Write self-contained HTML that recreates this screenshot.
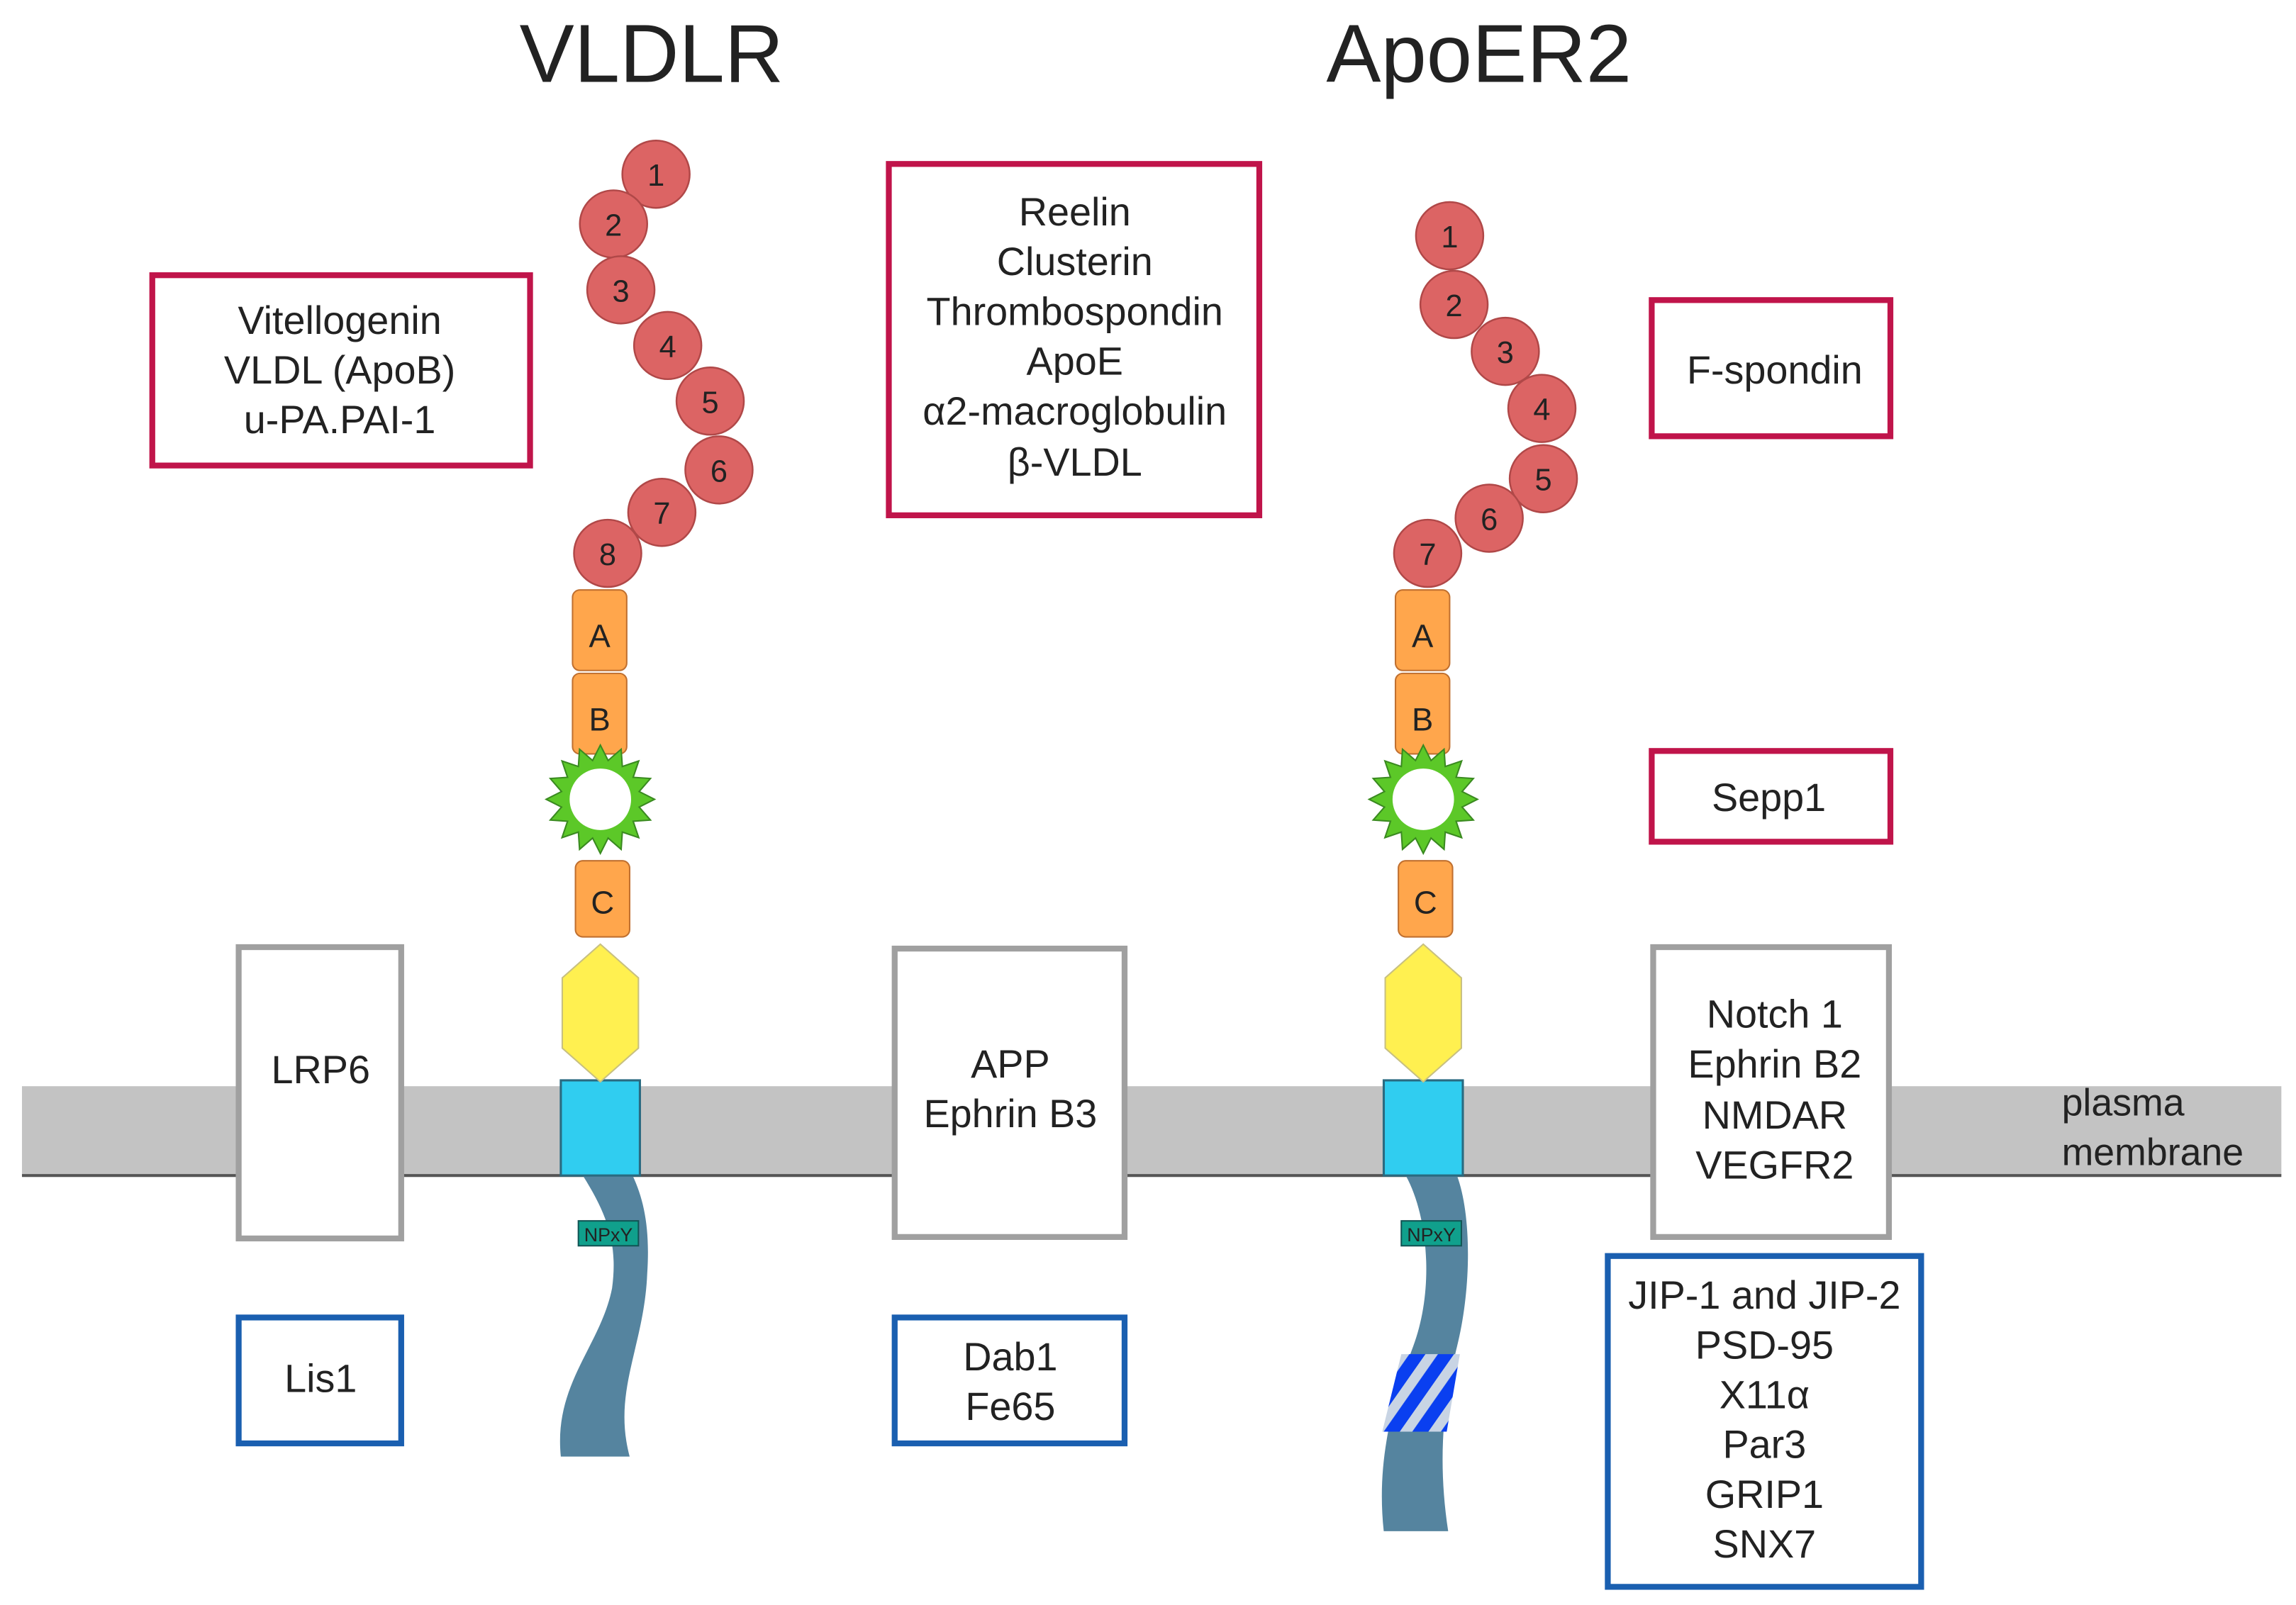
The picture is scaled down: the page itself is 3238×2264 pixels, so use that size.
<!DOCTYPE html>
<html><head><meta charset="utf-8"><style>html,body{margin:0;padding:0;background:#fff}svg{display:block}text{font-family:"Liberation Sans",sans-serif;fill:#222}</style></head><body>
<svg width="3238" height="2264" viewBox="0 0 1568 1096.4" preserveAspectRatio="none" xmlns="http://www.w3.org/2000/svg">
<defs>
<pattern id="st" patternUnits="userSpaceOnUse" width="16" height="16" patternTransform="rotate(35)"><rect width="16" height="16" fill="#0a3ff0"/><rect width="7" height="16" fill="#c8d4e4"/></pattern>
</defs>
<text x="445" y="56" font-size="56" text-anchor="middle">VLDLR</text>
<text x="1010" y="56" font-size="56" text-anchor="middle">ApoER2</text>
<!-- membrane -->
<rect x="15" y="742" width="1543" height="61" fill="#c3c3c3"/>
<line x1="15" y1="803" x2="1558" y2="803" stroke="#555" stroke-width="2"/>
<text x="1408" y="762" font-size="26">plasma</text>
<text x="1408" y="796" font-size="26">membrane</text>
<!-- boxes -->
<g fill="#fff" stroke-width="4">
<rect x="104" y="188" width="258" height="130" stroke="#c0144a"/>
<rect x="607" y="112" width="253" height="240" stroke="#c0144a"/>
<rect x="1128" y="205" width="163" height="93" stroke="#c0144a"/>
<rect x="1128" y="513" width="163" height="62" stroke="#c0144a"/>
<rect x="163" y="647" width="111" height="199" stroke="#a0a0a0"/>
<rect x="611" y="648" width="157" height="197" stroke="#a0a0a0"/>
<rect x="1129" y="647" width="161" height="198" stroke="#a0a0a0"/>
<rect x="163" y="900" width="111" height="86" stroke="#1a5fb0"/>
<rect x="611" y="900" width="157" height="86" stroke="#1a5fb0"/>
<rect x="1098" y="858" width="214" height="226" stroke="#1a5fb0"/>
</g>
<g font-size="27" text-anchor="middle">
<text x="232" y="228">Vitellogenin</text><text x="232" y="262">VLDL (ApoB)</text><text x="232" y="296">u-PA.PAI-1</text>
<text x="734" y="154">Reelin</text><text x="734" y="188">Clusterin</text><text x="734" y="222">Thrombospondin</text><text x="734" y="256">ApoE</text><text x="734" y="290">α2-macroglobulin</text><text x="734" y="325">β-VLDL</text>
<text x="1212" y="262">F-spondin</text>
<text x="1208" y="554">Sepp1</text>
<text x="219" y="740">LRP6</text>
<text x="690" y="736">APP</text><text x="690" y="770">Ephrin B3</text>
<text x="1212" y="702">Notch 1</text><text x="1212" y="736">Ephrin B2</text><text x="1212" y="771">NMDAR</text><text x="1212" y="805">VEGFR2</text>
<text x="219" y="951">Lis1</text>
<text x="690" y="936">Dab1</text><text x="690" y="970">Fe65</text>
<text x="1205" y="894">JIP-1 and JIP-2</text><text x="1205" y="928">PSD-95</text><text x="1205" y="962">X11α</text><text x="1205" y="996">Par3</text><text x="1205" y="1030">GRIP1</text><text x="1205" y="1064">SNX7</text>
</g>
<!-- tails -->
<path d="M398 803 C 415 830, 422 850, 418 880 C 410 920, 378 945, 383 995 L 430 995 C 418 950, 440 920, 442 870 C 444 840, 440 820, 432 803 Z" fill="#55849f"/>
<path d="M960 803 C 975 830, 980 880, 965 920 C 950 960, 940 1000, 945 1046 L 989 1046 C 982 1000, 985 960, 995 920 C 1005 880, 1005 830, 995 803 Z" fill="#55849f"/>
<polygon points="957,925 997,925 988,978 944,978" fill="url(#st)"/>
<rect x="395" y="834" width="41" height="17" fill="#10a08c" stroke="#155" stroke-width="1"/>
<text x="415.5" y="848" font-size="13" text-anchor="middle" fill="#133">NPxY</text>
<rect x="957" y="834" width="41" height="17" fill="#10a08c" stroke="#155" stroke-width="1"/>
<text x="977.5" y="848" font-size="13" text-anchor="middle" fill="#133">NPxY</text>
<!-- receptors -->
<g id="r1">
<rect x="383" y="738" width="54" height="65" fill="#30cdf0" stroke="#2a6a80" stroke-width="1.5"/>
<polygon points="410,645 436,668 436,716 410,739 384,716 384,668" fill="#fff050" stroke="#c8c080" stroke-width="1"/>
<rect x="393" y="588" width="37" height="52" rx="5" fill="#ffa64c" stroke="#c07030" stroke-width="1"/>
<text x="411.5" y="624" font-size="22" text-anchor="middle">C</text>
<rect x="391" y="460" width="37" height="55" rx="5" fill="#ffa64c" stroke="#c07030" stroke-width="1"/>
<text x="409.5" y="499" font-size="22" text-anchor="middle">B</text>
<rect x="391" y="403" width="37" height="55" rx="5" fill="#ffa64c" stroke="#c07030" stroke-width="1"/>
<text x="409.5" y="442" font-size="22" text-anchor="middle">A</text>
</g>
<use href="#r1" x="562"/>
<g id="sv">
<polygon fill="#5cc828" stroke="#3a8a20" stroke-width="1" points="410,509 415.3,519.5 424.2,511.8 425,523.6 436.2,519.8 432.4,531 444.2,531.8 436.5,540.7 447,546 436.5,551.3 444.2,560.2 432.4,561 436.2,572.2 425,568.4 424.2,580.2 415.3,572.5 410,583 404.7,572.5 395.8,580.2 395,568.4 383.8,572.2 387.6,561 375.8,560.2 383.5,551.3 373,546 383.5,540.7 375.8,531.8 387.6,531 383.8,519.8 395,523.6 395.8,511.8 404.7,519.5"/>
<circle cx="410" cy="546" r="21" fill="#fff"/>
</g>
<use href="#sv" x="562"/>
<!-- circles -->
<g fill="#dc6464" stroke="#b04848" stroke-width="1.2">
<circle cx="448" cy="119" r="23"/><circle cx="419" cy="153" r="23"/><circle cx="424" cy="198" r="23"/><circle cx="456" cy="236" r="23"/><circle cx="485" cy="274" r="23"/><circle cx="491" cy="321" r="23"/><circle cx="452" cy="350" r="23"/><circle cx="415" cy="378" r="23"/>
<circle cx="990" cy="161" r="23"/><circle cx="993" cy="208" r="23"/><circle cx="1028" cy="240" r="23"/><circle cx="1053" cy="279" r="23"/><circle cx="1054" cy="327" r="23"/><circle cx="1017" cy="354" r="23"/><circle cx="975" cy="378" r="23"/>
</g>
<g font-size="21" text-anchor="middle">
<text x="448" y="127">1</text><text x="419" y="161">2</text><text x="424" y="206">3</text><text x="456" y="244">4</text><text x="485" y="282">5</text><text x="491" y="329">6</text><text x="452" y="358">7</text><text x="415" y="386">8</text>
<text x="990" y="169">1</text><text x="993" y="216">2</text><text x="1028" y="248">3</text><text x="1053" y="287">4</text><text x="1054" y="335">5</text><text x="1017" y="362">6</text><text x="975" y="386">7</text>
</g>
</svg>
</body></html>
